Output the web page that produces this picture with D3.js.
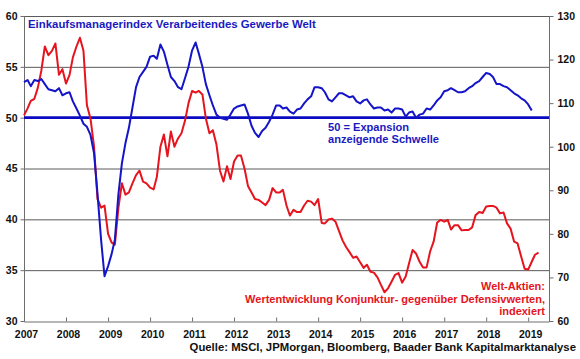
<!DOCTYPE html>
<html><head><meta charset="utf-8">
<script src="https://cdn.jsdelivr.net/npm/d3@7"></script>
<style>
body{margin:0;background:#fff;}
svg{display:block;font-family:"Liberation Sans",Arial,sans-serif;}
</style></head>
<body><svg id="c" width="580" height="359"></svg>
<script>
// ---- data (monthly, starting Jan 2007) ----
const pmiStart = "2007-01";
const pmiValues = [
53.5,53.7,53.1,53.7,53.6,53.8,53.3,52.8,52.7,52.6,52.9,52.2,
52.4,52.5,51.6,50.9,50.2,49.4,49.1,48.3,46.5,42.5,38.0,34.4,
35.4,36.6,38.0,42.5,45.5,47.5,49.0,51.0,53.0,54.0,54.5,55.0,
56.0,56.1,55.8,57.2,56.5,55.2,54.0,53.6,53.0,52.8,53.9,55.0,
56.6,57.4,56.3,55.0,53.3,52.2,51.2,50.3,50.0,49.9,49.8,50.3,
50.9,51.1,51.2,51.3,50.4,49.2,48.5,48.1,48.7,49.0,49.6,50.3,
51.2,51.2,50.9,51.0,50.6,50.4,50.8,50.9,51.4,51.8,52.1,53.0,
53.0,52.9,52.5,51.8,51.6,52.0,52.4,52.4,52.2,52.0,52.1,51.6,
51.4,51.7,51.8,51.3,50.9,51.0,51.0,50.7,50.8,50.5,50.9,50.9,
50.8,50.1,50.5,50.6,50.0,50.3,50.4,50.9,50.8,51.2,51.7,52.0,
52.6,52.7,52.9,52.7,52.5,52.5,52.6,52.9,53.1,53.4,53.6,54.0,
54.4,54.3,54.0,53.3,53.3,53.1,53.0,52.7,52.4,52.2,51.9,51.7,
51.3,50.7];
const ratioStart = "2007-01";
const ratioValues = [
107.2,108.8,110.5,111.0,113.5,117.5,123.0,121.0,122.0,123.7,116.5,117.8,
114.5,116.5,120.5,123.0,125.0,122.0,109.5,106.5,100.0,88.0,86.0,86.5,
80.0,78.0,77.5,86.0,91.6,89.0,89.5,91.6,93.5,94.5,92.0,91.6,
90.6,90.2,93.1,100.0,102.8,97.8,103.5,100.0,101.9,103.1,106.0,110.0,
112.8,112.4,112.8,112.0,106.5,103.1,103.8,100.5,94.5,92.0,95.5,92.6,
96.6,98.0,98.0,95.0,91.0,89.5,88.0,87.8,87.2,86.6,87.8,90.5,
89.5,89.5,90.1,86.5,84.2,85.5,85.0,85.0,86.5,87.6,87.4,86.6,
88.0,82.5,82.4,83.3,83.5,82.8,80.7,78.5,77.0,75.8,74.5,74.8,
73.5,72.2,72.9,71.3,71.1,70.0,68.3,66.6,67.5,69.0,70.6,71.0,
68.8,70.2,73.2,76.3,75.5,73.6,72.3,72.3,76.0,78.2,82.6,83.2,
82.8,83.2,81.0,82.0,82.0,80.8,80.9,80.9,81.5,84.3,85.0,84.8,
86.3,86.4,86.4,86.0,84.7,84.9,82.4,81.2,78.2,77.8,74.8,72.0,
71.8,73.6,75.2,75.7];
const yearLabels = ["2007","2008","2009","2010","2011","2012","2013","2014","2015","2016","2017","2018","2019"];
const leftTicks = [30,35,40,45,50,55,60];
const rightTicks = [60,70,80,90,100,110,120,130];
const gridValues = [35,40,45,55,60];
const threshold = 50;
const titleText = "Einkaufsmanagerindex Verarbeitendes Gewerbe Welt";
const thresholdText = ["50 = Expansion","anzeigende Schwelle"];
const ratioText = ["Welt-Aktien:","Wertentwicklung Konjunktur- gegenüber Defensivwerten,","indexiert"];
const sourceText = "Quelle: MSCI, JPMorgan, Bloomberg, Baader Bank Kapitalmarktanalyse";

// ---- chart ----
const svg = d3.select("#c");
const L = 24, R = 549, T = 16, B = 321;
const parse = d3.timeParse("%Y-%m");
const monthSeries = (start, vals) => vals.map((v,i)=>({d: d3.timeMonth.offset(parse(start), i), v}));
const pmi = monthSeries(pmiStart, pmiValues);
const ratio = monthSeries(ratioStart, ratioValues);

const x = d3.scaleTime().domain([new Date(2007,0,1), new Date(2019,6,1)]).range([L,R]);
const yL = d3.scaleLinear().domain([30,60]).range([B,T]);
const yR = d3.scaleLinear().domain([60,130]).range([B,T]);

const BLUE = "#1414c8", RED = "#e5141e", GRID = "#5a5a5a", AX = "#6e6e6e";

// gridlines
svg.append("g").selectAll("line").data(gridValues).join("line")
  .attr("x1",L).attr("x2",R).attr("y1",d=>yL(d)+0.5).attr("y2",d=>yL(d)+0.5)
  .attr("stroke",GRID).attr("stroke-width",1);

// left axis
const gl = svg.append("g").attr("transform",`translate(${L+0.5},0)`)
  .call(d3.axisLeft(yL).tickValues(leftTicks).tickSize(4).tickPadding(3));
// right axis
const gr = svg.append("g").attr("transform",`translate(${R+0.5},0)`)
  .call(d3.axisRight(yR).tickValues(rightTicks).tickSize(4).tickPadding(4));
// bottom axis
const gb = svg.append("g").attr("transform",`translate(0,${B+0.5})`)
  .call(d3.axisBottom(x).tickValues(yearLabels.map(y=>new Date(+y,0,1))).tickSize(-4).tickPadding(9).tickFormat(d3.timeFormat("%Y")));
[gl,gr,gb].forEach(g=>{
  g.select(".domain").attr("stroke",AX).attr("stroke-width",1);
  g.selectAll(".tick line").attr("stroke",AX);
  g.selectAll("text").attr("fill","#111").attr("font-size","10.5px").attr("font-weight","bold")
   .attr("font-family","'Liberation Sans',Arial,sans-serif");
});
gb.selectAll("text").attr("dx","2");
gl.select(".domain").attr("d",`M-0,${B}V${T}`);
gr.select(".domain").attr("d",`M0,${B}V${T}`);

// threshold line
svg.append("line").attr("x1",L).attr("x2",R).attr("y1",yL(threshold)).attr("y2",yL(threshold))
  .attr("stroke","#0a0ac0").attr("stroke-width",2.6);

// series lines
svg.append("path").datum(ratio)
  .attr("d",d3.line().x(d=>x(d.d)).y(d=>yR(d.v)))
  .attr("fill","none").attr("stroke",RED).attr("stroke-width",2).attr("stroke-linejoin","round");
svg.append("path").datum(pmi)
  .attr("d",d3.line().x(d=>x(d.d)).y(d=>yL(d.v)))
  .attr("fill","none").attr("stroke",BLUE).attr("stroke-width",2).attr("stroke-linejoin","round");

// texts
const txt = (s,xx,yy,col,anchor,fs)=>svg.append("text").text(s).attr("x",xx).attr("y",yy)
  .attr("fill",col).attr("font-size",(fs||11)+"px").attr("font-weight","bold").attr("text-anchor",anchor||"start");
txt(titleText,28,28,"#1a1ac0","start",11.4);
thresholdText.forEach((s,i)=>txt(s,328,131+i*12,"#1a1ac0","start",11.1));
ratioText.forEach((s,i)=>txt(s,545,290+i*12.5,RED,"end",11));
txt(sourceText,576,351,"#111","end",11.35);
</script></body></html>
